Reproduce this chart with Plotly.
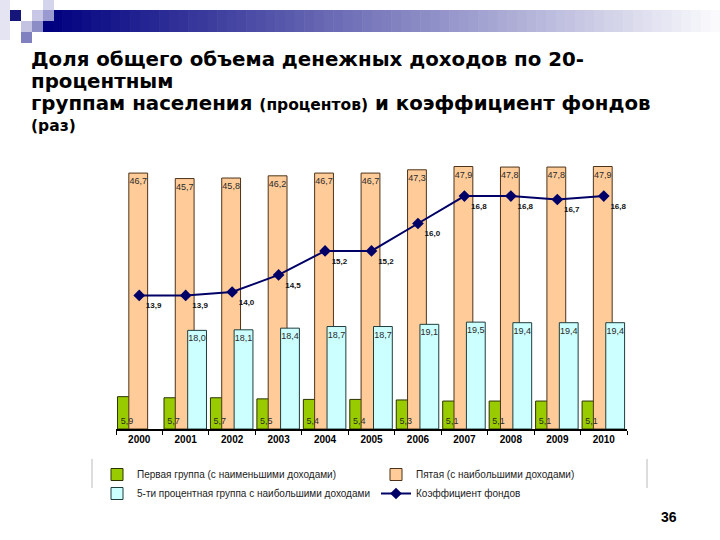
import plotly.graph_objects as go

years = ["2000", "2001", "2002", "2003", "2004", "2005", "2006", "2007", "2008", "2009", "2010"]
first_group = [5.9, 5.7, 5.7, 5.5, 5.4, 5.4, 5.3, 5.1, 5.1, 5.1, 5.1]
fifth_group = [46.7, 45.7, 45.8, 46.2, 46.7, 46.7, 47.3, 47.9, 47.8, 47.8, 47.9]
top5_group = [None, 18.0, 18.1, 18.4, 18.7, 18.7, 19.1, 19.5, 19.4, 19.4, 19.4]
funds_ratio = [13.9, 13.9, 14.0, 14.5, 15.2, 15.2, 16.0, 16.8, 16.8, 16.7, 16.8]

names = [
    "Первая группа (с наименьшими доходами)",
    "Пятая (с наибольшими доходами)",
    "5-ти процентная группа с наибольшими доходами",
    "Коэффициент фондов",
]


def fmt(vals):
    return ["" if v is None else f"{v:.1f}".replace(".", ",") for v in vals]


W = 720
H = 540
ML, MR, MT, MB = 116, 93, 155, 111
PW = W - ML - MR
PH = H - MT - MB


def px(xp, yp):
    return (xp - ML) / PW, (H - MB - yp) / PH


BW = 0.405
label_font = dict(family="Liberation Sans, Arial", size=9, color="#2a2a2a")
sans = "Liberation Sans, Arial"

fig = go.Figure()
fig.add_trace(go.Bar(
    x=years, y=first_group, name=names[0], width=BW, offset=-0.467,
    marker=dict(color="#99cc00", line=dict(color="#2b3300", width=1)),
    hoverinfo="skip",
))
fig.add_trace(go.Bar(
    x=years, y=fifth_group, name=names[1], width=BW, offset=-0.224,
    marker=dict(color="#ffcc99", line=dict(color="#4d3319", width=1)),
    text=fmt(fifth_group), textposition="inside", insidetextanchor="end",
    textangle=0, constraintext="none", textfont=label_font,
))
fig.add_trace(go.Bar(
    x=years, y=top5_group, name=names[2], width=BW, offset=0.043,
    marker=dict(color="#ccffff", line=dict(color="#1f3d3d", width=1)),
    text=fmt(top5_group), textposition="inside", insidetextanchor="end",
    textangle=0, constraintext="none", textfont=label_font,
))
# labels of the first group drawn above the neighbouring bars
fig.add_trace(go.Bar(
    x=years, y=first_group, width=BW, offset=-0.467, showlegend=False,
    marker=dict(color="rgba(0,0,0,0)", line=dict(width=0)),
    text=fmt(first_group), textposition="inside", insidetextanchor="start",
    textangle=0, constraintext="none", textfont=label_font, hoverinfo="skip",
))
fig.add_trace(go.Scatter(
    x=years, y=funds_ratio, name=names[3], yaxis="y2", mode="lines+markers+text",
    line=dict(color="#000066", width=2),
    marker=dict(symbol="diamond", size=9, color="#000066"),
    text=fmt(funds_ratio), textposition="bottom right",
    textfont=dict(family=sans, size=8, color="#111111", weight="bold"),
))

shapes = []
# header gradient bar
x0, x1 = 43, 720
n = 70
for i in range(n):
    t = i / (n - 1)
    r = int(0 + t * 250)
    g = int(0 + t * 250)
    b = int(128 + t * 125)
    xa = x0 + (x1 - x0) * i / n
    xb = x0 + (x1 - x0) * (i + 1) / n + 0.6
    a0, ya = px(xa, 10)
    a1, yb = px(xb, 32)
    shapes.append(dict(type="rect", xref="paper", yref="paper", x0=a0, x1=a1, y0=yb, y1=ya,
                       fillcolor=f"rgb({r},{g},{b})", line=dict(width=0), layer="below"))
squares = [
    (0, 0, 10, 40, "#e4e4f2"),
    (10, 10, "#16167a"),
    (32, 10, "#c8c8e6"),
    (43, 0, "#d4d4ec"),
    (43, 10, "#9a9ad0"),
    (21, 21, "#c4c4e2"),
    (32, 21, "#8c8cc6"),
    (21, 32, "#8080c0"),
]
for s in squares:
    if len(s) == 5:
        sx, sy, sw, sh, c = s
    else:
        sx, sy, c = s
        sw, sh = 11, 11
    a0, ya = px(sx, sy)
    a1, yb = px(sx + sw, sy + sh)
    shapes.append(dict(type="rect", xref="paper", yref="paper", x0=a0, x1=a1, y0=yb, y1=ya,
                       fillcolor=c, line=dict(width=0), layer="below"))
# legend side rules
for lx in (92, 647):
    a0, ya = px(lx, 459)
    _, yb = px(lx, 488)
    shapes.append(dict(type="line", xref="paper", yref="paper", x0=a0, x1=a0, y0=yb, y1=ya,
                       line=dict(color="#bbbbbb", width=1)))

annotations = []
title_lines = [
    (60, "Доля общего объема денежных доходов по 20-"),
    (82, "процентным"),
    (104, "группам населения <span style='font-size:15.5px'>(процентов)</span> и коэффициент фондов"),
    (126, "<span style='font-size:15.5px'>(раз)</span>"),
]
for yp, txt in title_lines:
    ax, ay = px(29, yp)
    annotations.append(dict(text=txt, xref="paper", yref="paper", x=ax, y=ay,
                            xanchor="left", yanchor="middle", showarrow=False,
                            font=dict(family="DejaVu Sans", size=19.8, color="#000000", weight="bold")))
ax, ay = px(669, 517)
annotations.append(dict(text="36", xref="paper", yref="paper", x=ax, y=ay,
                        xanchor="center", yanchor="middle", showarrow=False,
                        font=dict(family=sans, size=14, color="#000000", weight="bold")))

lx, ly = px(97, 460)
fig.update_layout(
    width=W, height=H,
    margin=dict(l=ML, r=MR, t=MT, b=MB, autoexpand=False),
    paper_bgcolor="white", plot_bgcolor="white",
    barmode="overlay",
    showlegend=True,
    legend=dict(orientation="h", x=lx, y=ly, xanchor="left", yanchor="top",
                entrywidth=234, entrywidthmode="pixels", tracegroupgap=0,
                font=dict(family=sans, size=10, color="#222222"),
                bgcolor="rgba(0,0,0,0)", itemwidth=30),
    xaxis=dict(type="category", tickson="boundaries", ticks="outside", ticklen=4,
               tickcolor="#000000", showline=True, linecolor="#000000", linewidth=1.5,
               showgrid=False, range=[-0.5, 10.5],
               tickfont=dict(family=sans, size=10, color="#000000", weight="bold")),
    yaxis=dict(range=[0, 50], visible=False),
    yaxis2=dict(range=[10, 18], overlaying="y", visible=False),
    shapes=shapes,
    annotations=annotations,
    font=dict(family=sans),
)

fig.write_html("out.html", config={"displayModeBar": False},
               post_script="document.body.style.margin='0';")
